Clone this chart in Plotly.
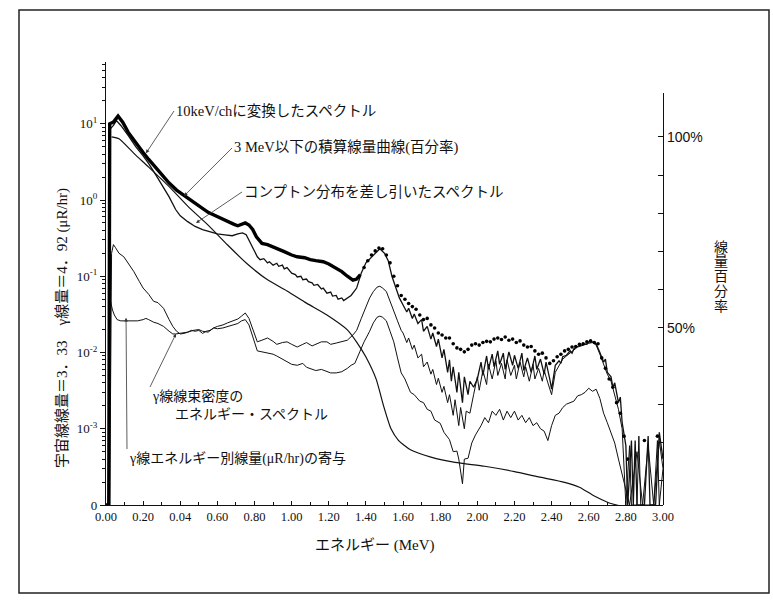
import plotly.graph_objects as go
import numpy as np

# ---------------- data ----------------
# 10 keV/ch spectrum (thick line up to 1.37 MeV, dotted above)
a_e = [0.00, 0.015, 0.02, 0.04, 0.065, 0.09, 0.12, 0.16, 0.20, 0.23, 0.27, 0.30, 0.34, 0.38, 0.41,
       0.44, 0.48, 0.51, 0.55, 0.59, 0.62, 0.655, 0.69, 0.71, 0.73, 0.75, 0.77, 0.79, 0.81, 0.84,
       0.87, 0.90, 0.93, 0.96, 1.00, 1.03, 1.07, 1.10, 1.13, 1.17, 1.20, 1.24, 1.27, 1.30, 1.33,
       1.35, 1.37]
a_v = [0, 0, 10.0, 10.5, 12.6, 10.5, 7.7, 5.6, 4.2, 3.4, 2.6, 2.1, 1.67, 1.35, 1.2,
       1.05, 0.9, 0.8, 0.69, 0.62, 0.57, 0.52, 0.48, 0.46, 0.48, 0.50, 0.47, 0.41, 0.33, 0.27,
       0.26, 0.24, 0.225, 0.21, 0.19, 0.18, 0.175, 0.165, 0.16, 0.155, 0.145, 0.127, 0.115, 0.10, 0.089,
       0.092, 0.105]
a_dot_e = [1.39, 1.41, 1.43, 1.45, 1.47, 1.49, 1.51, 1.53, 1.55, 1.57, 1.59, 1.61, 1.63, 1.65, 1.67,
           1.69, 1.71, 1.73, 1.75, 1.77, 1.79, 1.81, 1.83, 1.85, 1.87, 1.89, 1.91, 1.93, 1.95, 1.97,
           1.99, 2.01, 2.03, 2.05, 2.07, 2.09, 2.11, 2.13, 2.15, 2.17, 2.19, 2.21, 2.23, 2.25, 2.27,
           2.29, 2.31, 2.33, 2.35, 2.37, 2.39, 2.41, 2.43, 2.45, 2.47, 2.49, 2.51, 2.53, 2.55, 2.57,
           2.59, 2.61, 2.63, 2.65, 2.67, 2.69, 2.71, 2.73, 2.75, 2.77, 2.79, 2.81, 2.90, 2.97]
a_dot_v = [0.13, 0.16, 0.19, 0.215, 0.235, 0.23, 0.19, 0.15, 0.10, 0.075, 0.056, 0.050, 0.044, 0.040, 0.037,
           0.031, 0.027, 0.028, 0.023, 0.021, 0.018, 0.017, 0.0155, 0.0155, 0.013, 0.0115, 0.011, 0.0102, 0.011, 0.0125,
           0.013, 0.0125, 0.0135, 0.014, 0.0138, 0.015, 0.0155, 0.0148, 0.016, 0.0145, 0.015, 0.0135, 0.0142, 0.0125, 0.0118,
           0.012, 0.0105, 0.0095, 0.0098, 0.0085, 0.0072, 0.0078, 0.0088, 0.0095, 0.0105, 0.011, 0.0118, 0.012, 0.0128, 0.013,
           0.0138, 0.0142, 0.0135, 0.013, 0.0085, 0.0062, 0.0045, 0.0035, 0.0022, 0.0016, 0.0008, 0.0004, 0.0007, 0.0008]

# Spectrum with the Compton distribution subtracted
b_e = [0.00, 0.018, 0.022, 0.04, 0.056, 0.08, 0.12, 0.16, 0.20, 0.23, 0.27, 0.31, 0.34, 0.375, 0.40,
       0.44, 0.48, 0.52, 0.56, 0.60, 0.64, 0.68, 0.71, 0.735, 0.755, 0.78, 0.815, 0.83, 0.85, 0.87,
       0.88, 0.90, 0.92, 0.93, 0.95, 0.96, 0.975, 1.00, 1.02, 1.03, 1.05, 1.06, 1.08, 1.09, 1.11,
       1.12, 1.14, 1.16, 1.17, 1.19, 1.21, 1.22, 1.24, 1.25, 1.27, 1.28, 1.30, 1.32, 1.35, 1.375,
       1.40, 1.43, 1.455, 1.475, 1.50, 1.52, 1.54, 1.56, 1.58, 1.60, 1.62, 1.63, 1.65, 1.66, 1.68,
       1.70, 1.71, 1.73, 1.75, 1.76, 1.78, 1.79, 1.81, 1.82, 1.84, 1.85, 1.86, 1.87, 1.89, 1.90,
       1.92, 1.93, 1.95, 1.96, 1.98, 2.00, 2.02, 2.03, 2.05, 2.06, 2.08, 2.09, 2.11, 2.12, 2.14,
       2.15, 2.17, 2.19, 2.20, 2.22, 2.24, 2.25, 2.27, 2.29, 2.31, 2.32, 2.34, 2.36, 2.37, 2.39,
       2.40, 2.42, 2.44, 2.45, 2.46, 2.48, 2.50, 2.51, 2.52, 2.54, 2.56, 2.58, 2.59, 2.60, 2.62,
       2.64, 2.66, 2.68, 2.69, 2.70, 2.72, 2.73, 2.74, 2.76, 2.77, 2.78, 2.80, 2.81, 2.83, 2.84,
       2.85, 2.86, 2.90, 2.92, 2.93, 2.96, 2.98, 3.00]
b_v = [0, 0, 8.5, 9.5, 11.0, 9.5, 7.0, 5.0, 3.8, 3.0, 2.1, 1.45, 1.1, 0.75, 0.62,
       0.52, 0.45, 0.41, 0.38, 0.36, 0.35, 0.34, 0.36, 0.37, 0.35, 0.26, 0.18, 0.165, 0.17, 0.15,
       0.155, 0.14, 0.148, 0.135, 0.14, 0.125, 0.13, 0.11, 0.105, 0.098, 0.10, 0.09, 0.092, 0.085, 0.082,
       0.076, 0.078, 0.068, 0.07, 0.06, 0.062, 0.055, 0.056, 0.05, 0.052, 0.048, 0.052, 0.056, 0.07, 0.11,
       0.15, 0.18, 0.21, 0.23, 0.2, 0.16, 0.10, 0.07, 0.052, 0.042, 0.034, 0.038, 0.028, 0.032, 0.024,
       0.027, 0.019, 0.022, 0.015, 0.018, 0.012, 0.015, 0.0085, 0.011, 0.0055, 0.008, 0.0042, 0.0065, 0.003, 0.0055,
       0.0022, 0.0048, 0.0028, 0.0042, 0.0035, 0.0045, 0.0075, 0.005, 0.009, 0.006, 0.0095, 0.0065, 0.0105, 0.007, 0.0098,
       0.006, 0.0102, 0.0068, 0.0092, 0.0062, 0.0098, 0.0058, 0.0085, 0.0055, 0.009, 0.006, 0.0082, 0.0052, 0.0075, 0.0045,
       0.0033, 0.0068, 0.0078, 0.0072, 0.0088, 0.0092, 0.0105, 0.0098, 0.0112, 0.012, 0.0125, 0.013, 0.0128, 0.0138, 0.0138,
       0.013, 0.01, 0.0075, 0.0082, 0.0055, 0.0048, 0.0035, 0.004, 0.0022, 0.0026, 0.0012, 0.0006, 0, 0.0007, 0,
       0.0007, 0, 0, 0.0008, 0, 0, 0.0009, 0.0004]

# Energy spectrum of the gamma-ray flux density
c_e = [0.00, 0.02, 0.03, 0.04, 0.05, 0.07, 0.096, 0.12, 0.15, 0.18, 0.20, 0.23, 0.256, 0.28, 0.31,
       0.34, 0.36, 0.38, 0.40, 0.42, 0.44, 0.47, 0.50, 0.52, 0.55, 0.58, 0.60, 0.63, 0.655, 0.68,
       0.71, 0.73, 0.75, 0.77, 0.79, 0.815, 0.84, 0.87, 0.90, 0.92, 0.95, 0.975, 1.00, 1.03, 1.06,
       1.08, 1.11, 1.13, 1.16, 1.19, 1.21, 1.24, 1.27, 1.30, 1.33, 1.35, 1.375, 1.40, 1.42, 1.44,
       1.46, 1.475, 1.49, 1.51, 1.53, 1.55, 1.57, 1.59, 1.60, 1.62, 1.63, 1.65, 1.66, 1.68, 1.70,
       1.71, 1.73, 1.75, 1.76, 1.78, 1.79, 1.81, 1.82, 1.84, 1.85, 1.87, 1.88, 1.90, 1.91, 1.93,
       1.94, 1.96, 1.98, 2.00, 2.01, 2.03, 2.05, 2.06, 2.08, 2.10, 2.11, 2.13, 2.15, 2.16, 2.18,
       2.20, 2.21, 2.23, 2.25, 2.26, 2.28, 2.30, 2.31, 2.33, 2.35, 2.36, 2.38, 2.40, 2.42, 2.44,
       2.46, 2.48, 2.50, 2.52, 2.54, 2.56, 2.58, 2.60, 2.62, 2.64, 2.66, 2.68, 2.70, 2.72, 2.74,
       2.76, 2.78, 2.80, 2.82, 2.83, 2.86, 2.87, 2.88, 2.91, 2.95, 2.97, 2.98, 3.00]
c_v = [0, 0, 0.2, 0.26, 0.24, 0.2, 0.18, 0.15, 0.115, 0.085, 0.07, 0.058, 0.047, 0.045, 0.038,
       0.027, 0.022, 0.019, 0.0175, 0.0178, 0.0185, 0.0195, 0.020, 0.019, 0.0185, 0.021, 0.022, 0.023, 0.0245, 0.026,
       0.0275, 0.030, 0.033, 0.028, 0.020, 0.0138, 0.0145, 0.0155, 0.014, 0.0128, 0.0135, 0.0138, 0.0128, 0.0118, 0.0128,
       0.0135, 0.0122, 0.0128, 0.0138, 0.0138, 0.0128, 0.0133, 0.0138, 0.0145, 0.017, 0.0195, 0.028, 0.040, 0.052, 0.063,
       0.072, 0.074, 0.07, 0.063, 0.048, 0.035, 0.026, 0.0195, 0.018, 0.0135, 0.0155, 0.011, 0.0125, 0.0085, 0.0095,
       0.0065, 0.0075, 0.0052, 0.006, 0.0038, 0.0046, 0.003, 0.0036, 0.0022, 0.0028, 0.0015, 0.0024, 0.0011, 0.0019, 0.001,
       0.0017, 0.0016, 0.0028, 0.0048, 0.0032, 0.0058, 0.0038, 0.007, 0.0045, 0.0078, 0.005, 0.0072, 0.0045, 0.008, 0.005,
       0.0068, 0.0045, 0.0075, 0.0048, 0.0065, 0.0042, 0.007, 0.0045, 0.0062, 0.0042, 0.0058, 0.004, 0.0028, 0.0055, 0.0068,
       0.0082, 0.009, 0.0098, 0.0108, 0.0118, 0.0122, 0.0128, 0.0132, 0.0135, 0.0125, 0.0095, 0.007, 0.0052, 0.0042, 0.0028,
       0.0018, 0.0010, 0, 0.0006, 0, 0, 0.0008, 0, 0, 0, 0.0007, 0, 0.0003]

# Dose contribution by gamma-ray energy (uR/hr)
d_e = [0.00, 0.015, 0.018, 0.025, 0.035, 0.045, 0.06, 0.08, 0.11, 0.14, 0.17, 0.20, 0.215, 0.23, 0.256,
       0.28, 0.31, 0.34, 0.36, 0.375, 0.40, 0.42, 0.44, 0.46, 0.48, 0.50, 0.52, 0.54, 0.56, 0.58,
       0.60, 0.63, 0.655, 0.68, 0.71, 0.73, 0.75, 0.77, 0.79, 0.815, 0.84, 0.87, 0.90, 0.92, 0.95,
       0.975, 1.00, 1.03, 1.06, 1.08, 1.11, 1.13, 1.16, 1.19, 1.21, 1.24, 1.27, 1.30, 1.32, 1.34,
       1.36, 1.39, 1.42, 1.44, 1.46, 1.475, 1.49, 1.51, 1.53, 1.55, 1.57, 1.59, 1.61, 1.64, 1.66,
       1.69, 1.71, 1.73, 1.75, 1.77, 1.80, 1.82, 1.85, 1.87, 1.89, 1.90, 1.92, 1.93, 1.95, 1.97,
       1.99, 2.02, 2.04, 2.06, 2.08, 2.10, 2.12, 2.14, 2.16, 2.18, 2.20, 2.22, 2.24, 2.26, 2.28,
       2.30, 2.32, 2.34, 2.36, 2.38, 2.40, 2.42, 2.44, 2.46, 2.48, 2.50, 2.52, 2.54, 2.56, 2.58,
       2.60, 2.62, 2.64, 2.66, 2.68, 2.70, 2.72, 2.74, 2.76, 2.78, 2.80, 2.82, 2.86, 2.89, 2.92,
       2.95, 2.98, 3.00]
d_v = [0, 0, 0.055, 0.045, 0.036, 0.031, 0.027, 0.026, 0.026, 0.026, 0.026, 0.027, 0.028, 0.027, 0.025,
       0.024, 0.022, 0.019, 0.0175, 0.0175, 0.018, 0.0185, 0.0185, 0.0195, 0.019, 0.0195, 0.0178, 0.019, 0.0195, 0.021,
       0.0205, 0.021, 0.022, 0.023, 0.024, 0.026, 0.027, 0.023, 0.016, 0.0105, 0.0102, 0.0098, 0.0095, 0.009, 0.0082,
       0.0076, 0.007, 0.0068, 0.0072, 0.0064, 0.006, 0.0058, 0.006, 0.0057, 0.0054, 0.0054, 0.0056, 0.0062, 0.0068, 0.0072,
       0.0095, 0.0138, 0.019, 0.0245, 0.029, 0.030, 0.029, 0.026, 0.019, 0.0138, 0.0085, 0.0054, 0.0045, 0.003, 0.0028,
       0.0023, 0.0022, 0.0018, 0.0017, 0.0013, 0.00118, 0.0009, 0.00072, 0.0005, 0.00051, 0.0004, 0.00019, 0.0004, 0.00041, 0.00065,
       0.00083, 0.0011, 0.0014, 0.0012, 0.0017, 0.0015, 0.0018, 0.0013, 0.0017, 0.0014, 0.0017, 0.0013, 0.0015, 0.0012, 0.0014,
       0.0011, 0.0012, 0.001, 0.00093, 0.0007, 0.0011, 0.0015, 0.0016, 0.0019, 0.0021, 0.0022, 0.0023, 0.0027, 0.0028, 0.0030,
       0.0034, 0.0031, 0.0033, 0.0025, 0.0016, 0.0012, 0.0009, 0.00065, 0.0004, 0.00025, 0.00016, 0, 0.0005, 0, 0.0006,
       0, 0.0007, 0.0003]

# Cumulative dose curve below 3 MeV (percent, right axis)
cum_e = [0.03, 0.07, 0.15, 0.23, 0.34, 0.44, 0.55, 0.655, 0.76, 0.87, 0.975, 1.08, 1.19, 1.30, 1.35,
         1.40, 1.455, 1.495, 1.535, 1.575, 1.64, 1.75, 1.88, 2.04, 2.20, 2.33, 2.47, 2.55, 2.63, 2.71,
         2.79, 2.84, 3.00]
cum_pct = [100, 99.5, 95.7, 92.1, 87.0, 81.9, 76.9, 71.7, 66.8, 62.6, 59.7, 56.5, 53.4, 49.5, 46.3,
           42.4, 36.6, 29.6, 23.6, 20.6, 18.1, 16.2, 14.8, 13.8, 12.4, 11.0, 9.6, 8.3, 6.0, 4.2,
           3.0, 0, 0]

x_tickvals = [0.0, 0.2, 0.4, 0.6, 0.8, 1.0, 1.2, 1.4, 1.6, 1.8, 2.0, 2.2, 2.4, 2.6, 2.8, 3.0]
x_ticktext = ["0.00", "0.20", "0.04", "0.60", "0.80", "1.00", "1.20", "1.40", "1.60", "1.80",
              "2.00", "2.20", "2.40", "2.60", "2.80", "3.00"]
y_tickvals = [1e-4, 1e-3, 1e-2, 1e-1, 1e0, 1e1]
y_ticktext = ["0", "10<sup>-3</sup>", "10<sup>-2</sup>", "10<sup>-1</sup>", "10<sup>0</sup>", "10<sup>1</sup>"]
pct_tickvals = [50, 100]
pct_ticktext = ["50%", "100%"]
pct_minorvals = [10, 20, 30, 40, 60, 70, 80, 90]

# ---------------- layout geometry ----------------
W, H = 773, 606
L, R, T, B = 106, 110, 62, 101
PW, PH = W - L - R, H - T - B
FLOOR = 1e-4  # zero counts sit on the bottom ("0") line of the log axis

SERIF = "'Liberation Serif', 'Noto Sans CJK JP', serif"


def px(x, y):
    """pixel position -> paper coordinates"""
    return (x - L) / PW, (H - B - y) / PH


def floor(vals):
    return np.maximum(np.asarray(vals, dtype=float), FLOOR)


fig = go.Figure()

fig.add_trace(go.Scatter(x=cum_e, y=cum_pct, yaxis="y2", mode="lines",
                         line=dict(color="#111", width=1.2, shape="spline", smoothing=0.6),
                         hoverinfo="skip", showlegend=False))
fig.add_trace(go.Scatter(x=d_e, y=floor(d_v), mode="lines",
                         line=dict(color="#111", width=1.0), showlegend=False))
fig.add_trace(go.Scatter(x=c_e, y=floor(c_v), mode="lines",
                         line=dict(color="#111", width=1.0), showlegend=False))
fig.add_trace(go.Scatter(x=b_e, y=floor(b_v), mode="lines",
                         line=dict(color="#111", width=1.3), showlegend=False))
fig.add_trace(go.Scatter(x=a_e, y=floor(a_v), mode="lines",
                         line=dict(color="#000", width=3.4), showlegend=False))
fig.add_trace(go.Scatter(x=a_dot_e, y=floor(a_dot_v), mode="markers",
                         marker=dict(color="#000", size=3.6, symbol="circle"), showlegend=False))

minor_vals = [k * 10.0 ** d for d in range(-4, 2) for k in range(2, 10) if k * 10.0 ** d < 64]

fig.update_layout(
    width=W, height=H, autosize=False,
    margin=dict(l=L, r=R, t=T, b=B),
    paper_bgcolor="white", plot_bgcolor="rgba(0,0,0,0)",
    font=dict(family=SERIF, color="#111", size=12),
    xaxis=dict(range=[0, 3.0], domain=[0, 1], anchor="y",
               showline=True, linecolor="#111", linewidth=1.2, mirror=False,
               showgrid=False, zeroline=False,
               ticks="inside", ticklen=4, tickcolor="#111",
               tickvals=x_tickvals, ticktext=x_ticktext,
               tickfont=dict(family=SERIF, size=12.5, color="#111"),
               minor=dict(ticks="inside", ticklen=3, tickcolor="#111",
                          tickvals=[0.1, 0.3, 0.5, 0.7, 0.9, 1.1, 1.3, 1.5, 1.7, 1.9, 2.1, 2.3, 2.5, 2.7, 2.9])),
    yaxis=dict(type="log", range=[-4, 1.81], domain=[0, 1], anchor="x",
               showline=True, linecolor="#111", linewidth=1.2,
               showgrid=False, zeroline=False,
               ticks="outside", ticklen=5, tickcolor="#111",
               tickvals=y_tickvals, ticktext=y_ticktext,
               tickfont=dict(family=SERIF, size=13, color="#111"),
               minor=dict(ticks="outside", ticklen=3, tickcolor="#111", tickvals=minor_vals)),
    yaxis2=dict(range=[3.66, 111.5], domain=[0, (H - B - 93) / PH], anchor="x", side="right",
                showline=True, linecolor="#111", linewidth=1.2,
                showgrid=False, zeroline=False,
                ticks="inside", ticklen=5, tickcolor="#111",
                tickvals=pct_tickvals, ticktext=pct_ticktext,
                tickfont=dict(family="'Liberation Sans', Arial, sans-serif", size=14, color="#111"),
                minor=dict(ticks="inside", ticklen=5, tickcolor="#111", tickvals=pct_minorvals)),
)

ann = []


def label(text, x, y, size=14.5, xanchor="left", **kw):
    xp, yp = px(x, y)
    ann.append(dict(text=text, x=xp, y=yp, xref="paper", yref="paper", xanchor=xanchor,
                    yanchor="middle", showarrow=False, font=dict(family=SERIF, size=size, color="#111"), **kw))


def pointer(text, e, v, tx, ty, size=14.5, yanchor="middle"):
    """label whose left edge sits at pixel (tx, ty), with an arrow to the curve point (e, v)"""
    hx = L + e / 3.0 * PW
    hy = T + (1.81 - np.log10(v)) / 5.81 * PH
    ann.append(dict(text=text, x=e, y=np.log10(v), xref="x", yref="y",
                    ax=tx - hx, ay=ty - hy, axref="pixel", ayref="pixel",
                    xanchor="left", yanchor=yanchor, showarrow=True,
                    arrowhead=2, arrowsize=0.9, arrowwidth=0.8, arrowcolor="#333",
                    font=dict(family=SERIF, size=size, color="#111")))


pointer("10keV/chに変換したスペクトル", 0.215, 4.1, 174, 111)
pointer("3 MeV以下の積算線量曲線(百分率)", 0.42, 1.13, 232, 148)
pointer("コンプトン分布を差し引いたスペクトル", 0.485, 0.50, 242, 192)
pointer("γ線線束密度の", 0.377, 0.0176, 150, 387, size=14, yanchor="top")
label("エネルギー・スペクトル", 173, 414, 14)
pointer("γ線エネルギー別線量(μR/hr)の寄与", 0.108, 0.0285, 127, 449, size=14, yanchor="top")

label("エネルギー (MeV)", 375, 545, 15, xanchor="center")
label("宇宙線線量＝3．33　γ線量＝4．92 (μR/hr)", 62, 328, 15, xanchor="center", textangle=-90)
for i, ch in enumerate("線量百分率"):
    label(ch, 721, 247 + i * 14.8, 14, xanchor="center")

fig.update_layout(annotations=ann)

# page frame
x0, y0 = px(19, 10)
x1, y1 = px(769, 593)
fig.add_shape(type="rect", xref="paper", yref="paper", x0=x0, y0=y1, x1=x1, y1=y0,
              line=dict(color="#222", width=1.5), layer="below")

fig.write_html("out.html")
